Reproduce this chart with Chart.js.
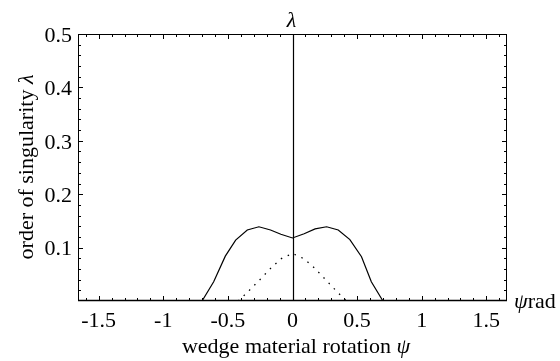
<!DOCTYPE html>
<html><head><meta charset="utf-8">
<script src="https://cdn.jsdelivr.net/npm/chart.js@4/dist/chart.umd.min.js"></script>
<style>html,body{margin:0;padding:0;background:#fff}#wrap{width:560px;height:361px}</style>
</head><body><div id="wrap"><canvas id="c" width="560" height="361"></canvas></div>
<script>
// ---- data ----
const xTickValues = [-1.5, -1, -0.5, 0, 0.5, 1, 1.5];
const yTickValues = [0.1, 0.2, 0.3, 0.4, 0.5];
const solidX = [-1.66, -0.7, -0.61, -0.52, -0.44, -0.35, -0.26, -0.17, -0.09, 0, 0.09, 0.175, 0.264, 0.354, 0.444, 0.534, 0.61, 0.7, 1.66];
const solidY = [0, 0, 0.036, 0.084, 0.114, 0.133, 0.139, 0.133, 0.125, 0.118, 0.126, 0.135, 0.139, 0.133, 0.115, 0.083, 0.036, 0, 0];
const dottedX = [-0.42, -0.35, -0.26, -0.17, -0.09, 0, 0.09, 0.17, 0.26, 0.35, 0.42];
const dottedY = [0, 0.016, 0.038, 0.061, 0.079, 0.089, 0.079, 0.062, 0.039, 0.016, 0];
const xTitle = 'wedge material rotation ';
const xTitleSym = 'ψ';
const yTitle = 'order of singularity ';
const yTitleSym = 'λ';
const topLabel = 'λ';
const unitSym = 'ψ';
const unitText = 'rad';

const FONT = '"Liberation Serif", "Times New Roman", serif';
const FS = 22;
const pts = (xs, ys) => xs.map((v, i) => ({x: v, y: ys[i]}));

const decor = {
  id: 'decor',
  afterDraw(chart) {
    const {ctx, chartArea: a, scales: {x, y}} = chart;
    ctx.save();
    ctx.strokeStyle = '#000';
    ctx.lineWidth = 1;
    // frame
    ctx.beginPath();
    ctx.moveTo(a.left + 0.5, a.top + 0.5); ctx.lineTo(a.right - 0.5, a.top + 0.5);
    ctx.lineTo(a.right - 0.5, a.bottom); ctx.moveTo(a.left + 0.5, a.top); ctx.lineTo(a.left + 0.5, a.bottom);
    ctx.stroke();
    ctx.lineWidth = 1.6;
    ctx.beginPath(); ctx.moveTo(a.left, a.bottom - 0.5); ctx.lineTo(a.right, a.bottom - 0.5); ctx.stroke();
    // vertical axis at x = 0
    ctx.lineWidth = 1.2;
    const x0 = Math.round(x.getPixelForValue(0)) + 0.5;
    ctx.beginPath(); ctx.moveTo(x0, a.top); ctx.lineTo(x0, a.bottom); ctx.stroke();
    // inward ticks
    ctx.lineWidth = 1;
    ctx.beginPath();
    for (let i = -16; i <= 16; i++) {
      const px = Math.round(x.getPixelForValue(i / 10)) + 0.5;
      const len = (i % 5 === 0) ? 5 : 3;
      ctx.moveTo(px, a.bottom); ctx.lineTo(px, a.bottom - len);
      ctx.moveTo(px, a.top); ctx.lineTo(px, a.top + len);
    }
    for (let i = 1; i <= 25; i++) {
      const py = Math.round(y.getPixelForValue(i * 0.02)) + 0.5;
      const len = (i % 5 === 0) ? 5 : 3;
      ctx.moveTo(a.left, py); ctx.lineTo(a.left + len, py);
      ctx.moveTo(a.right, py); ctx.lineTo(a.right - len, py);
    }
    ctx.stroke();
    // texts
    ctx.fillStyle = '#000';
    ctx.textBaseline = 'alphabetic';
    // top lambda
    ctx.font = 'italic ' + FS + 'px ' + FONT;
    ctx.textAlign = 'center';
    ctx.fillText(topLabel, x0 - 2, 26.5);
    // unit label
    ctx.textAlign = 'left';
    ctx.font = 'italic ' + FS + 'px ' + FONT;
    ctx.fillText(unitSym, 514, 308);
    const wPsi = ctx.measureText(unitSym).width;
    ctx.font = FS + 'px ' + FONT;
    ctx.fillText(unitText, 514 + wPsi, 308);
    // x title
    ctx.font = FS + 'px ' + FONT;
    const w1 = ctx.measureText(xTitle).width;
    ctx.font = 'italic ' + FS + 'px ' + FONT;
    const w2 = ctx.measureText(xTitleSym).width;
    let sx = 296 - (w1 + w2) / 2;
    ctx.font = FS + 'px ' + FONT;
    ctx.fillText(xTitle, sx, 353);
    ctx.font = 'italic ' + FS + 'px ' + FONT;
    ctx.fillText(xTitleSym, sx + w1, 353);
    // y title
    ctx.save();
    ctx.translate(33, 167);
    ctx.rotate(-Math.PI / 2);
    ctx.font = FS + 'px ' + FONT;
    const v1 = ctx.measureText(yTitle).width;
    ctx.font = 'italic ' + FS + 'px ' + FONT;
    const v2 = ctx.measureText(yTitleSym).width;
    const sy = -(v1 + v2) / 2;
    ctx.font = FS + 'px ' + FONT;
    ctx.fillText(yTitle, sy, 0);
    ctx.font = 'italic ' + FS + 'px ' + FONT;
    ctx.fillText(yTitleSym, sy + v1, 0);
    ctx.restore();
    ctx.restore();
  }
};

new Chart(document.getElementById('c'), {
  type: 'scatter',
  data: {
    datasets: [
      {data: pts(solidX, solidY), showLine: true, borderColor: '#000', borderWidth: 1.2, pointRadius: 0, tension: 0, fill: false},
      {data: pts(dottedX, dottedY), showLine: true, borderColor: '#000', borderWidth: 1.3, borderDash: [1.5, 6], pointRadius: 0, tension: 0, fill: false}
    ]
  },
  options: {
    responsive: false,
    animation: false,
    devicePixelRatio: 1,
    layout: {padding: {top: 34, right: 53, left: 0, bottom: 0}},
    plugins: {legend: {display: false}, tooltip: {enabled: false}},
    scales: {
      x: {
        type: 'linear', min: -1.66, max: 1.66,
        afterFit(s) { s.height = 60; },
        afterBuildTicks(s) { s.ticks = xTickValues.map(v => ({value: v})); },
        grid: {display: false, drawTicks: false},
        border: {display: false},
        ticks: {color: '#000', font: {family: FONT, size: FS}, padding: 7, maxRotation: 0, autoSkip: false,
                callback: v => String(v)}
      },
      y: {
        type: 'linear', min: 0, max: 0.5,
        afterFit(s) { s.width = 78; },
        afterBuildTicks(s) { s.ticks = yTickValues.map(v => ({value: v})); },
        grid: {display: false, drawTicks: false},
        border: {display: false},
        ticks: {color: '#000', font: {family: FONT, size: FS}, padding: 6, labelOffset: 2, autoSkip: false,
                callback: v => String(v)}
      }
    }
  },
  plugins: [decor]
});
</script>
</body></html>
